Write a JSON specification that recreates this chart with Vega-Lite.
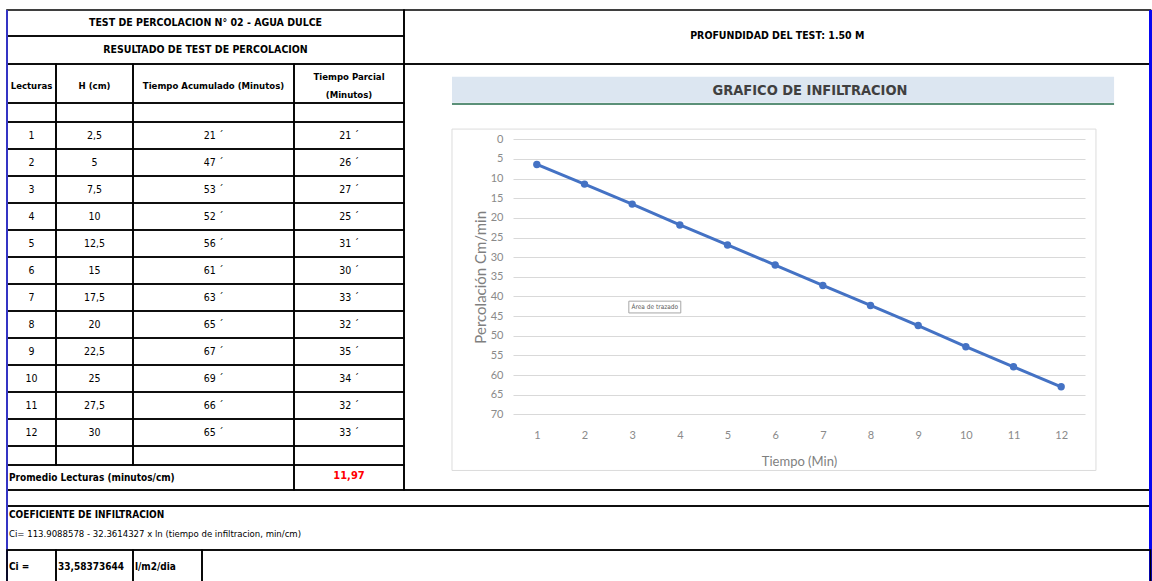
{
  "$schema": "https://vega.github.io/schema/vega-lite/v6.json",
  "width": 1152,
  "height": 581,
  "autosize": {"type": "fit", "contains": "padding"},
  "padding": 0,
  "background": "white",
  "config": {
    "view": {"stroke": null},
    "text": {"font": "Liberation Sans Narrow, Arial Narrow, DejaVu Sans Condensed, sans-serif"}
  },
  "datasets": {
    "bandaSuperior": [
      {"c0": 0, "c1": 1, "r0": 0, "r1": 1, "texto": "TEST DE PERCOLACION N° 02 - AGUA DULCE"},
      {"c0": 0, "c1": 1, "r0": 1, "r1": 2, "texto": "RESULTADO DE TEST DE PERCOLACION"},
      {"c0": 1, "c1": 2, "r0": 0, "r1": 2, "texto": "PROFUNDIDAD DEL TEST:  1.50 M"}
    ],
    "celdas": [
      {"c0": 0, "c1": 1, "r0": 2, "r1": 3, "texto": "Lecturas", "tipo": "encabezado"},
      {"c0": 1, "c1": 2, "r0": 2, "r1": 3, "texto": "H (cm)", "tipo": "encabezado"},
      {"c0": 2, "c1": 3, "r0": 2, "r1": 3, "texto": "Tiempo Acumulado (Minutos)", "tipo": "encabezado"},
      {"c0": 3, "c1": 4, "r0": 2, "r1": 3, "texto": "Tiempo Parcial\n(Minutos)", "tipo": "encabezado_doble"},
      {"c0": 4, "c1": 5, "r0": 2, "r1": 18, "texto": "", "tipo": "vacio"},
      {"c0": 0, "c1": 1, "r0": 3, "r1": 4, "texto": "", "tipo": "vacio"},
      {"c0": 1, "c1": 2, "r0": 3, "r1": 4, "texto": "", "tipo": "vacio"},
      {"c0": 2, "c1": 3, "r0": 3, "r1": 4, "texto": "", "tipo": "vacio"},
      {"c0": 3, "c1": 4, "r0": 3, "r1": 4, "texto": "", "tipo": "vacio"},
      {"c0": 0, "c1": 1, "r0": 4, "r1": 5, "texto": "1", "tipo": "dato"},
      {"c0": 1, "c1": 2, "r0": 4, "r1": 5, "texto": "2,5", "tipo": "dato"},
      {"c0": 2, "c1": 3, "r0": 4, "r1": 5, "texto": "21 ´", "tipo": "dato"},
      {"c0": 3, "c1": 4, "r0": 4, "r1": 5, "texto": "21 ´", "tipo": "dato"},
      {"c0": 0, "c1": 1, "r0": 5, "r1": 6, "texto": "2", "tipo": "dato"},
      {"c0": 1, "c1": 2, "r0": 5, "r1": 6, "texto": "5", "tipo": "dato"},
      {"c0": 2, "c1": 3, "r0": 5, "r1": 6, "texto": "47 ´", "tipo": "dato"},
      {"c0": 3, "c1": 4, "r0": 5, "r1": 6, "texto": "26 ´", "tipo": "dato"},
      {"c0": 0, "c1": 1, "r0": 6, "r1": 7, "texto": "3", "tipo": "dato"},
      {"c0": 1, "c1": 2, "r0": 6, "r1": 7, "texto": "7,5", "tipo": "dato"},
      {"c0": 2, "c1": 3, "r0": 6, "r1": 7, "texto": "53 ´", "tipo": "dato"},
      {"c0": 3, "c1": 4, "r0": 6, "r1": 7, "texto": "27 ´", "tipo": "dato"},
      {"c0": 0, "c1": 1, "r0": 7, "r1": 8, "texto": "4", "tipo": "dato"},
      {"c0": 1, "c1": 2, "r0": 7, "r1": 8, "texto": "10", "tipo": "dato"},
      {"c0": 2, "c1": 3, "r0": 7, "r1": 8, "texto": "52 ´", "tipo": "dato"},
      {"c0": 3, "c1": 4, "r0": 7, "r1": 8, "texto": "25 ´", "tipo": "dato"},
      {"c0": 0, "c1": 1, "r0": 8, "r1": 9, "texto": "5", "tipo": "dato"},
      {"c0": 1, "c1": 2, "r0": 8, "r1": 9, "texto": "12,5", "tipo": "dato"},
      {"c0": 2, "c1": 3, "r0": 8, "r1": 9, "texto": "56 ´", "tipo": "dato"},
      {"c0": 3, "c1": 4, "r0": 8, "r1": 9, "texto": "31 ´", "tipo": "dato"},
      {"c0": 0, "c1": 1, "r0": 9, "r1": 10, "texto": "6", "tipo": "dato"},
      {"c0": 1, "c1": 2, "r0": 9, "r1": 10, "texto": "15", "tipo": "dato"},
      {"c0": 2, "c1": 3, "r0": 9, "r1": 10, "texto": "61 ´", "tipo": "dato"},
      {"c0": 3, "c1": 4, "r0": 9, "r1": 10, "texto": "30 ´", "tipo": "dato"},
      {"c0": 0, "c1": 1, "r0": 10, "r1": 11, "texto": "7", "tipo": "dato"},
      {"c0": 1, "c1": 2, "r0": 10, "r1": 11, "texto": "17,5", "tipo": "dato"},
      {"c0": 2, "c1": 3, "r0": 10, "r1": 11, "texto": "63 ´", "tipo": "dato"},
      {"c0": 3, "c1": 4, "r0": 10, "r1": 11, "texto": "33 ´", "tipo": "dato"},
      {"c0": 0, "c1": 1, "r0": 11, "r1": 12, "texto": "8", "tipo": "dato"},
      {"c0": 1, "c1": 2, "r0": 11, "r1": 12, "texto": "20", "tipo": "dato"},
      {"c0": 2, "c1": 3, "r0": 11, "r1": 12, "texto": "65 ´", "tipo": "dato"},
      {"c0": 3, "c1": 4, "r0": 11, "r1": 12, "texto": "32 ´", "tipo": "dato"},
      {"c0": 0, "c1": 1, "r0": 12, "r1": 13, "texto": "9", "tipo": "dato"},
      {"c0": 1, "c1": 2, "r0": 12, "r1": 13, "texto": "22,5", "tipo": "dato"},
      {"c0": 2, "c1": 3, "r0": 12, "r1": 13, "texto": "67 ´", "tipo": "dato"},
      {"c0": 3, "c1": 4, "r0": 12, "r1": 13, "texto": "35 ´", "tipo": "dato"},
      {"c0": 0, "c1": 1, "r0": 13, "r1": 14, "texto": "10", "tipo": "dato"},
      {"c0": 1, "c1": 2, "r0": 13, "r1": 14, "texto": "25", "tipo": "dato"},
      {"c0": 2, "c1": 3, "r0": 13, "r1": 14, "texto": "69 ´", "tipo": "dato"},
      {"c0": 3, "c1": 4, "r0": 13, "r1": 14, "texto": "34 ´", "tipo": "dato"},
      {"c0": 0, "c1": 1, "r0": 14, "r1": 15, "texto": "11", "tipo": "dato"},
      {"c0": 1, "c1": 2, "r0": 14, "r1": 15, "texto": "27,5", "tipo": "dato"},
      {"c0": 2, "c1": 3, "r0": 14, "r1": 15, "texto": "66 ´", "tipo": "dato"},
      {"c0": 3, "c1": 4, "r0": 14, "r1": 15, "texto": "32 ´", "tipo": "dato"},
      {"c0": 0, "c1": 1, "r0": 15, "r1": 16, "texto": "12", "tipo": "dato"},
      {"c0": 1, "c1": 2, "r0": 15, "r1": 16, "texto": "30", "tipo": "dato"},
      {"c0": 2, "c1": 3, "r0": 15, "r1": 16, "texto": "65 ´", "tipo": "dato"},
      {"c0": 3, "c1": 4, "r0": 15, "r1": 16, "texto": "33 ´", "tipo": "dato"},
      {"c0": 0, "c1": 1, "r0": 16, "r1": 17, "texto": "", "tipo": "vacio"},
      {"c0": 1, "c1": 2, "r0": 16, "r1": 17, "texto": "", "tipo": "vacio"},
      {"c0": 2, "c1": 3, "r0": 16, "r1": 17, "texto": "", "tipo": "vacio"},
      {"c0": 3, "c1": 4, "r0": 16, "r1": 17, "texto": "", "tipo": "vacio"},
      {"c0": 0, "c1": 3, "r0": 17, "r1": 18, "texto": "Promedio Lecturas (minutos/cm)", "tipo": "etiqueta"},
      {"c0": 3, "c1": 4, "r0": 17, "r1": 18, "texto": "11,97", "tipo": "resultado"},
      {"c0": 0, "c1": 5, "r0": 18, "r1": 19, "texto": "", "tipo": "vacio"},
      {"c0": 0, "c1": 5, "r0": 19, "r1": 21, "texto": "", "tipo": "vacio"},
      {"c0": 0, "c1": 5, "r0": 19, "r1": 20, "texto": "COEFICIENTE DE INFILTRACION", "tipo": "nota_titulo"},
      {"c0": 0, "c1": 5, "r0": 20, "r1": 21, "texto": "Ci= 113.9088578 - 32.3614327 x ln (tiempo de infiltracion, min/cm)", "tipo": "nota"}
    ],
    "filaCi": [
      {"c0": 0, "c1": 1, "r0": 21, "r1": 22, "texto": "Ci =", "tipo": "etiqueta"},
      {"c0": 1, "c1": 2, "r0": 21, "r1": 22, "texto": "33,58373644", "tipo": "etiqueta"},
      {"c0": 2, "c1": 3, "r0": 21, "r1": 22, "texto": "l/m2/dia", "tipo": "etiqueta"},
      {"c0": 3, "c1": 4, "r0": 21, "r1": 22, "texto": "", "tipo": "vacio"}
    ],
    "curva": [
      {"tiempo": 1, "percolacion": 6.4},
      {"tiempo": 2, "percolacion": 11.4},
      {"tiempo": 3, "percolacion": 16.5},
      {"tiempo": 4, "percolacion": 21.8},
      {"tiempo": 5, "percolacion": 26.9},
      {"tiempo": 6, "percolacion": 32.0},
      {"tiempo": 7, "percolacion": 37.2},
      {"tiempo": 8, "percolacion": 42.3},
      {"tiempo": 9, "percolacion": 47.4},
      {"tiempo": 10, "percolacion": 52.8},
      {"tiempo": 11, "percolacion": 57.9},
      {"tiempo": 12, "percolacion": 63.0}
    ],
    "rotulo": [{"texto": "GRAFICO DE INFILTRACION"}],
    "aviso": [{"texto": "Área de trazado"}],
    "unico": [{"elemento": "marco"}]
  },
  "resolve": {"scale": {"x": "independent", "y": "independent"}, "axis": {"x": "independent", "y": "independent"}},
  "layer": [
    {
      "data": {"name": "curva"},
      "layer": [
        {
          "mark": {"type": "line", "color": "#4472c4", "strokeWidth": 3},
          "encoding": {
            "x": {"field": "tiempo", "type": "quantitative", "scale": {"domain": [0.5, 12.5], "range": [513, 1085], "nice": false, "zero": false},
              "axis": {"orient": "bottom", "offset": -166.7, "values": [1, 2, 3, 4, 5, 6, 7, 8, 9, 10, 11, 12], "format": "d", "title": "Tiempo (Min)", "grid": false, "domain": false, "ticks": false, "labelPadding": 15, "labelFont": "Lato", "labelFontSize": 11, "labelColor": "#8a8a8a", "titleFont": "Lato", "titleFontSize": 13, "titleFontWeight": "normal", "titleColor": "#7f7f7f", "titlePadding": 15}},
            "y": {"field": "percolacion", "type": "quantitative", "scale": {"domain": [0, 70], "range": [139.3, 414.3], "nice": false, "zero": false},
              "axis": {"orient": "left", "offset": -513, "values": [0, 5, 10, 15, 20, 25, 30, 35, 40, 45, 50, 55, 60, 65, 70], "format": "d", "title": "Percolación Cm/min", "grid": true, "gridColor": "#d9d9d9", "gridWidth": 1, "domain": false, "ticks": false, "labelPadding": 10, "labelFont": "Lato", "labelFontSize": 11, "labelColor": "#8a8a8a", "titleFont": "Lato", "titleFontSize": 15, "titleFontWeight": "normal", "titleColor": "#7f7f7f", "titlePadding": 2}}
          }
        },
        {
          "mark": {"type": "point", "shape": "circle", "filled": true, "size": 55, "color": "#4472c4", "opacity": 1},
          "encoding": {
            "x": {"field": "tiempo", "type": "quantitative", "scale": {"domain": [0.5, 12.5], "range": [513, 1085], "nice": false, "zero": false}},
            "y": {"field": "percolacion", "type": "quantitative", "scale": {"domain": [0, 70], "range": [139.3, 414.3], "nice": false, "zero": false}}
          }
        },
        {
          "data": {"name": "unico"},
          "mark": {"type": "rect", "filled": false, "color": "#dcdcdc", "strokeWidth": 1},
          "encoding": {
            "x": {"datum": -0.78, "type": "quantitative", "scale": {"domain": [0.5, 12.5], "range": [513, 1085], "nice": false, "zero": false}},
            "x2": {"datum": 12.73},
            "y": {"datum": -2.6, "type": "quantitative", "scale": {"domain": [0, 70], "range": [139.3, 414.3], "nice": false, "zero": false}},
            "y2": {"datum": 84.3}
          }
        },
        {
          "data": {"name": "unico"},
          "mark": {"type": "rect", "color": "#dce6f1"},
          "encoding": {
            "x": {"datum": -0.78, "type": "quantitative", "scale": {"domain": [0.5, 12.5], "range": [513, 1085], "nice": false, "zero": false}},
            "x2": {"datum": 13.11},
            "y": {"datum": -15.9, "type": "quantitative", "scale": {"domain": [0, 70], "range": [139.3, 414.3], "nice": false, "zero": false}},
            "y2": {"datum": -9.3}
          }
        },
        {
          "data": {"name": "unico"},
          "mark": {"type": "rule", "color": "#5b9078", "strokeWidth": 2},
          "encoding": {
            "x": {"datum": -0.78, "type": "quantitative", "scale": {"domain": [0.5, 12.5], "range": [513, 1085], "nice": false, "zero": false}},
            "x2": {"datum": 13.11},
            "y": {"datum": -9.0, "type": "quantitative", "scale": {"domain": [0, 70], "range": [139.3, 414.3], "nice": false, "zero": false}}
          }
        },
        {
          "data": {"name": "rotulo"},
          "mark": {"type": "text", "font": "Liberation Sans Narrow, Arial Narrow, DejaVu Sans Condensed, sans-serif", "fontWeight": "bold", "fontSize": 14.5, "color": "#404040", "align": "center", "baseline": "middle"},
          "encoding": {
            "x": {"datum": 6.73, "type": "quantitative", "scale": {"domain": [0.5, 12.5], "range": [513, 1085], "nice": false, "zero": false}},
            "y": {"datum": -12.4, "type": "quantitative", "scale": {"domain": [0, 70], "range": [139.3, 414.3], "nice": false, "zero": false}},
            "text": {"field": "texto"}
          }
        },
        {
          "data": {"name": "aviso"},
          "mark": {"type": "rect", "color": "white", "stroke": "#a6a6a6", "strokeWidth": 1},
          "encoding": {
            "x": {"datum": 2.93, "type": "quantitative", "scale": {"domain": [0.5, 12.5], "range": [513, 1085], "nice": false, "zero": false}},
            "x2": {"datum": 4.02},
            "y": {"datum": 41.2, "type": "quantitative", "scale": {"domain": [0, 70], "range": [139.3, 414.3], "nice": false, "zero": false}},
            "y2": {"datum": 44.2}
          }
        },
        {
          "data": {"name": "aviso"},
          "mark": {"type": "text", "font": "Liberation Sans Narrow, DejaVu Sans Condensed, sans-serif", "fontSize": 6.5, "color": "#595959", "align": "center", "baseline": "middle"},
          "encoding": {
            "x": {"datum": 3.475, "type": "quantitative", "scale": {"domain": [0.5, 12.5], "range": [513, 1085], "nice": false, "zero": false}},
            "y": {"datum": 42.7, "type": "quantitative", "scale": {"domain": [0, 70], "range": [139.3, 414.3], "nice": false, "zero": false}},
            "text": {"field": "texto"}
          }
        }
      ]
    },
    {
      "data": {"name": "bandaSuperior"},
      "layer": [
        {
          "mark": {"type": "rect", "filled": false, "color": "black", "strokeWidth": 1.6, "clip": true},
          "encoding": {
            "x": {"field": "c0", "type": "quantitative", "axis": null, "scale": {"domain": [0, 1, 2], "range": [7, 404, 1150.5], "nice": false, "zero": false}},
            "x2": {"field": "c1"},
            "y": {"field": "r0", "type": "quantitative", "axis": null, "scale": {"domain": [0, 1, 2, 3, 4, 5, 6, 7, 8, 9, 10, 11, 12, 13, 14, 15, 16, 17, 18, 19, 20, 21, 22], "range": [10, 36, 64, 103, 122, 149, 176, 203, 230, 257, 284, 311, 338, 365, 392, 419, 446, 465, 490, 506, 524, 550, 584], "nice": false, "zero": false}},
            "y2": {"field": "r1"}
          }
        },
        {
          "transform": [{"calculate": "(datum.c0 + datum.c1) / 2", "as": "cx"}, {"calculate": "(datum.r0 + datum.r1) / 2", "as": "cy"}],
          "mark": {"type": "text", "fontWeight": "bold", "fontSize": 10.5, "color": "black", "align": "center", "baseline": "middle"},
          "encoding": {
            "x": {"field": "cx", "type": "quantitative", "axis": null, "scale": {"domain": [0, 1, 2], "range": [7, 404, 1150.5], "nice": false, "zero": false}},
            "y": {"field": "cy", "type": "quantitative", "axis": null, "scale": {"domain": [0, 1, 2, 3, 4, 5, 6, 7, 8, 9, 10, 11, 12, 13, 14, 15, 16, 17, 18, 19, 20, 21, 22], "range": [10, 36, 64, 103, 122, 149, 176, 203, 230, 257, 284, 311, 338, 365, 392, 419, 446, 465, 490, 506, 524, 550, 584], "nice": false, "zero": false}},
            "text": {"field": "texto"}
          }
        }
      ]
    },
    {
      "data": {"name": "celdas"},
      "layer": [
        {
          "transform": [{"filter": "datum.tipo !== 'nota' && datum.tipo !== 'nota_titulo'"}],
          "mark": {"type": "rect", "filled": false, "color": "black", "strokeWidth": 1.6, "clip": true},
          "encoding": {
            "x": {"field": "c0", "type": "quantitative", "axis": null, "scale": {"domain": [0, 1, 2, 3, 4, 5], "range": [7, 56, 133, 294, 404, 1150.5], "nice": false, "zero": false}},
            "x2": {"field": "c1"},
            "y": {"field": "r0", "type": "quantitative", "axis": null, "scale": {"domain": [0, 1, 2, 3, 4, 5, 6, 7, 8, 9, 10, 11, 12, 13, 14, 15, 16, 17, 18, 19, 20, 21, 22], "range": [10, 36, 64, 103, 122, 149, 176, 203, 230, 257, 284, 311, 338, 365, 392, 419, 446, 465, 490, 506, 524, 550, 584], "nice": false, "zero": false}},
            "y2": {"field": "r1"}
          }
        },
        {
          "transform": [{"filter": "datum.tipo === 'encabezado'"}, {"calculate": "(datum.c0 + datum.c1) / 2", "as": "cx"}, {"calculate": "(datum.r0 + datum.r1) / 2", "as": "cy"}],
          "mark": {"type": "text", "fontWeight": "bold", "fontSize": 9.5, "color": "black", "align": "center", "baseline": "middle", "dy": 2},
          "encoding": {
            "x": {"field": "cx", "type": "quantitative", "axis": null, "scale": {"domain": [0, 1, 2, 3, 4, 5], "range": [7, 56, 133, 294, 404, 1150.5], "nice": false, "zero": false}},
            "y": {"field": "cy", "type": "quantitative", "axis": null, "scale": {"domain": [0, 1, 2, 3, 4, 5, 6, 7, 8, 9, 10, 11, 12, 13, 14, 15, 16, 17, 18, 19, 20, 21, 22], "range": [10, 36, 64, 103, 122, 149, 176, 203, 230, 257, 284, 311, 338, 365, 392, 419, 446, 465, 490, 506, 524, 550, 584], "nice": false, "zero": false}},
            "text": {"field": "texto"}
          }
        },
        {
          "transform": [{"filter": "datum.tipo === 'encabezado_doble'"}, {"calculate": "(datum.c0 + datum.c1) / 2", "as": "cx"}, {"calculate": "(datum.r0 + datum.r1) / 2", "as": "cy"}],
          "mark": {"type": "text", "fontWeight": "bold", "fontSize": 9.5, "color": "black", "align": "center", "baseline": "middle", "lineBreak": "\n", "lineHeight": 18, "dy": -7},
          "encoding": {
            "x": {"field": "cx", "type": "quantitative", "axis": null, "scale": {"domain": [0, 1, 2, 3, 4, 5], "range": [7, 56, 133, 294, 404, 1150.5], "nice": false, "zero": false}},
            "y": {"field": "cy", "type": "quantitative", "axis": null, "scale": {"domain": [0, 1, 2, 3, 4, 5, 6, 7, 8, 9, 10, 11, 12, 13, 14, 15, 16, 17, 18, 19, 20, 21, 22], "range": [10, 36, 64, 103, 122, 149, 176, 203, 230, 257, 284, 311, 338, 365, 392, 419, 446, 465, 490, 506, 524, 550, 584], "nice": false, "zero": false}},
            "text": {"field": "texto"}
          }
        },
        {
          "transform": [{"filter": "datum.tipo === 'dato'"}, {"calculate": "(datum.c0 + datum.c1) / 2", "as": "cx"}, {"calculate": "(datum.r0 + datum.r1) / 2", "as": "cy"}],
          "mark": {"type": "text", "fontSize": 10.5, "color": "black", "align": "center", "baseline": "middle"},
          "encoding": {
            "x": {"field": "cx", "type": "quantitative", "axis": null, "scale": {"domain": [0, 1, 2, 3, 4, 5], "range": [7, 56, 133, 294, 404, 1150.5], "nice": false, "zero": false}},
            "y": {"field": "cy", "type": "quantitative", "axis": null, "scale": {"domain": [0, 1, 2, 3, 4, 5, 6, 7, 8, 9, 10, 11, 12, 13, 14, 15, 16, 17, 18, 19, 20, 21, 22], "range": [10, 36, 64, 103, 122, 149, 176, 203, 230, 257, 284, 311, 338, 365, 392, 419, 446, 465, 490, 506, 524, 550, 584], "nice": false, "zero": false}},
            "text": {"field": "texto"}
          }
        },
        {
          "transform": [{"filter": "datum.tipo === 'resultado'"}, {"calculate": "(datum.c0 + datum.c1) / 2", "as": "cx"}, {"calculate": "(datum.r0 + datum.r1) / 2", "as": "cy"}],
          "mark": {"type": "text", "fontWeight": "bold", "fontSize": 11, "color": "#ff0000", "align": "center", "baseline": "middle", "dy": -2},
          "encoding": {
            "x": {"field": "cx", "type": "quantitative", "axis": null, "scale": {"domain": [0, 1, 2, 3, 4, 5], "range": [7, 56, 133, 294, 404, 1150.5], "nice": false, "zero": false}},
            "y": {"field": "cy", "type": "quantitative", "axis": null, "scale": {"domain": [0, 1, 2, 3, 4, 5, 6, 7, 8, 9, 10, 11, 12, 13, 14, 15, 16, 17, 18, 19, 20, 21, 22], "range": [10, 36, 64, 103, 122, 149, 176, 203, 230, 257, 284, 311, 338, 365, 392, 419, 446, 465, 490, 506, 524, 550, 584], "nice": false, "zero": false}},
            "text": {"field": "texto"}
          }
        },
        {
          "transform": [{"filter": "datum.tipo === 'etiqueta' || datum.tipo === 'nota_titulo'"}, {"calculate": "(datum.r0 + datum.r1) / 2", "as": "cy"}],
          "mark": {"type": "text", "fontWeight": "bold", "fontSize": 10, "color": "black", "align": "left", "baseline": "middle", "dx": 2},
          "encoding": {
            "x": {"field": "c0", "type": "quantitative", "axis": null, "scale": {"domain": [0, 1, 2, 3, 4, 5], "range": [7, 56, 133, 294, 404, 1150.5], "nice": false, "zero": false}},
            "y": {"field": "cy", "type": "quantitative", "axis": null, "scale": {"domain": [0, 1, 2, 3, 4, 5, 6, 7, 8, 9, 10, 11, 12, 13, 14, 15, 16, 17, 18, 19, 20, 21, 22], "range": [10, 36, 64, 103, 122, 149, 176, 203, 230, 257, 284, 311, 338, 365, 392, 419, 446, 465, 490, 506, 524, 550, 584], "nice": false, "zero": false}},
            "text": {"field": "texto"}
          }
        },
        {
          "transform": [{"filter": "datum.tipo === 'nota'"}, {"calculate": "(datum.r0 + datum.r1) / 2", "as": "cy"}],
          "mark": {"type": "text", "fontSize": 9.5, "color": "black", "align": "left", "baseline": "middle", "dx": 2, "dy": -3},
          "encoding": {
            "x": {"field": "c0", "type": "quantitative", "axis": null, "scale": {"domain": [0, 1, 2, 3, 4, 5], "range": [7, 56, 133, 294, 404, 1150.5], "nice": false, "zero": false}},
            "y": {"field": "cy", "type": "quantitative", "axis": null, "scale": {"domain": [0, 1, 2, 3, 4, 5, 6, 7, 8, 9, 10, 11, 12, 13, 14, 15, 16, 17, 18, 19, 20, 21, 22], "range": [10, 36, 64, 103, 122, 149, 176, 203, 230, 257, 284, 311, 338, 365, 392, 419, 446, 465, 490, 506, 524, 550, 584], "nice": false, "zero": false}},
            "text": {"field": "texto"}
          }
        },
        {
          "data": {"name": "unico"},
          "mark": {"type": "rule", "color": "#3434c4", "strokeWidth": 2, "clip": true},
          "encoding": {
            "x": {"datum": 0, "type": "quantitative", "axis": null, "scale": {"domain": [0, 1, 2, 3, 4, 5], "range": [7, 56, 133, 294, 404, 1150.5], "nice": false, "zero": false}},
            "y": {"datum": 0, "type": "quantitative", "axis": null, "scale": {"domain": [0, 1, 2, 3, 4, 5, 6, 7, 8, 9, 10, 11, 12, 13, 14, 15, 16, 17, 18, 19, 20, 21, 22], "range": [10, 36, 64, 103, 122, 149, 176, 203, 230, 257, 284, 311, 338, 365, 392, 419, 446, 465, 490, 506, 524, 550, 584], "nice": false, "zero": false}},
            "y2": {"datum": 22}
          }
        },
        {
          "data": {"name": "unico"},
          "mark": {"type": "rule", "color": "#0808f0", "strokeWidth": 3, "clip": true},
          "encoding": {
            "x": {"datum": 5, "type": "quantitative", "axis": null, "scale": {"domain": [0, 1, 2, 3, 4, 5], "range": [7, 56, 133, 294, 404, 1150.5], "nice": false, "zero": false}},
            "y": {"datum": 0, "type": "quantitative", "axis": null, "scale": {"domain": [0, 1, 2, 3, 4, 5, 6, 7, 8, 9, 10, 11, 12, 13, 14, 15, 16, 17, 18, 19, 20, 21, 22], "range": [10, 36, 64, 103, 122, 149, 176, 203, 230, 257, 284, 311, 338, 365, 392, 419, 446, 465, 490, 506, 524, 550, 584], "nice": false, "zero": false}},
            "y2": {"datum": 22}
          }
        }
      ]
    },
    {
      "data": {"name": "filaCi"},
      "layer": [
        {
          "mark": {"type": "rect", "filled": false, "color": "black", "strokeWidth": 1.6, "clip": true},
          "encoding": {
            "x": {"field": "c0", "type": "quantitative", "axis": null, "scale": {"domain": [0, 1, 2, 3, 4], "range": [7, 56, 133, 202, 1150.5], "nice": false, "zero": false}},
            "x2": {"field": "c1"},
            "y": {"field": "r0", "type": "quantitative", "axis": null, "scale": {"domain": [0, 1, 2, 3, 4, 5, 6, 7, 8, 9, 10, 11, 12, 13, 14, 15, 16, 17, 18, 19, 20, 21, 22], "range": [10, 36, 64, 103, 122, 149, 176, 203, 230, 257, 284, 311, 338, 365, 392, 419, 446, 465, 490, 506, 524, 550, 584], "nice": false, "zero": false}},
            "y2": {"field": "r1"}
          }
        },
        {
          "transform": [{"filter": "datum.tipo === 'etiqueta'"}, {"calculate": "(datum.r0 + datum.r1) / 2", "as": "cy"}],
          "mark": {"type": "text", "fontWeight": "bold", "fontSize": 10, "color": "black", "align": "left", "baseline": "middle", "dx": 2},
          "encoding": {
            "x": {"field": "c0", "type": "quantitative", "axis": null, "scale": {"domain": [0, 1, 2, 3, 4], "range": [7, 56, 133, 202, 1150.5], "nice": false, "zero": false}},
            "y": {"field": "cy", "type": "quantitative", "axis": null, "scale": {"domain": [0, 1, 2, 3, 4, 5, 6, 7, 8, 9, 10, 11, 12, 13, 14, 15, 16, 17, 18, 19, 20, 21, 22], "range": [10, 36, 64, 103, 122, 149, 176, 203, 230, 257, 284, 311, 338, 365, 392, 419, 446, 465, 490, 506, 524, 550, 584], "nice": false, "zero": false}},
            "text": {"field": "texto"}
          }
        }
      ]
    }
  ]
}
